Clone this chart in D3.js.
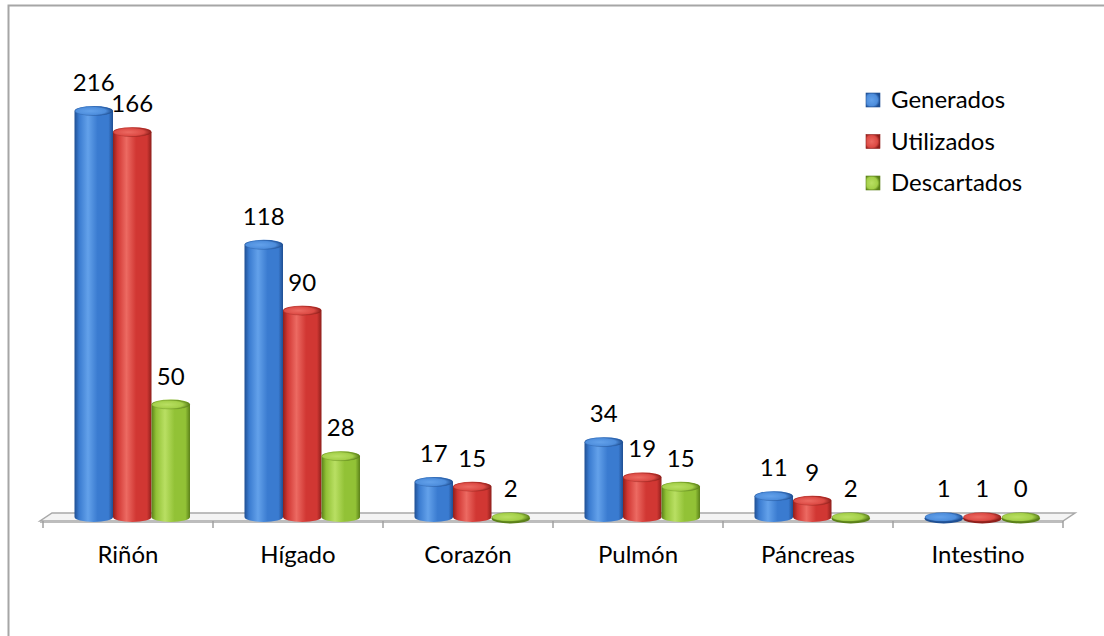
<!DOCTYPE html>
<html>
<head>
<meta charset="utf-8">
<script src="https://cdn.jsdelivr.net/npm/d3@7"></script>
<style>
  html, body { margin: 0; padding: 0; background: #fff; }
  svg { display: block; }
  text { font-family: Lato, "Liberation Sans", sans-serif; }
</style>
</head>
<body>
<svg id="chart" width="1104" height="636"></svg>
<script>
// ---- data ----
const categories = ["Riñón", "Hígado", "Corazón", "Pulmón", "Páncreas", "Intestino"];
const seriesNames = ["Generados", "Utilizados", "Descartados"];
const generados = [216, 118, 17, 34, 11, 1];
const utilizados = [166, 90, 15, 19, 9, 1];
const descartados = [50, 28, 2, 15, 2, 0];
const seriesValues = [generados, utilizados, descartados];

// ---- styles ----
const palette = [
  { dark: "#1f4f93", base: "#3a7bd0", light: "#63a1ea", cap: "#4d8ddc" },
  { dark: "#8f1f1b", base: "#d13733", light: "#ec6a62", cap: "#dc4a44" },
  { dark: "#5b8119", base: "#92c236", light: "#b9df63", cap: "#a3cf48" }
];
const fontSize = 24;

const svg = d3.select("#chart");
const defs = svg.append("defs");

palette.forEach((p, i) => {
  const g = defs.append("linearGradient").attr("id", "body" + i)
    .attr("x1", "0%").attr("x2", "100%").attr("y1", "0%").attr("y2", "0%");
  [[0, p.dark], [0.12, p.base], [0.35, p.light], [0.6, p.base], [0.88, p.base], [1, p.dark]]
    .forEach(([o, c]) => g.append("stop").attr("offset", o).attr("stop-color", c));
  const r = defs.append("radialGradient").attr("id", "cap" + i)
    .attr("cx", "40%").attr("cy", "50%").attr("r", "60%");
  [[0, p.light], [0.7, p.cap], [1, p.dark]]
    .forEach(([o, c]) => r.append("stop").attr("offset", o).attr("stop-color", c));
});

// ---- scales ----
const x0 = d3.scaleBand().domain(categories).range([43, 1063]).padding(0);
const x1 = d3.scaleBand().domain(seriesNames).range([31.5, 147]).padding(0);
const y = d3.scaleLinear().domain([0, 175]).range([522, 111]).clamp(true);

// ---- border ----
svg.append("rect").attr("x", 8.5).attr("y", 5.5).attr("width", 1200).attr("height", 700)
  .attr("fill", "none").attr("stroke", "#a6a6a6").attr("stroke-width", 2);

// ---- floor ----
const fl = 40, fr = 1063, bl = 52, br = 1075, fy = 521, by = 513;
svg.append("path")
  .attr("d", `M${fl},${fy} L${fr},${fy} L${br},${by} L${bl},${by} Z`)
  .attr("fill", "#f4f4f4").attr("stroke", "#a9a9a9").attr("stroke-width", 1.5);
svg.append("rect").attr("x", fl).attr("y", fy).attr("width", fr - fl).attr("height", 2)
  .attr("fill", "#bdbdbd");

// ticks at category boundaries
const tickXs = categories.map(c => x0(c)).concat([x0.range()[1]]);
svg.append("g").selectAll("line").data(tickXs).join("line")
  .attr("x1", d => d).attr("x2", d => d).attr("y1", fy).attr("y2", 528)
  .attr("stroke", "#a0a0a0").attr("stroke-width", 1.5);

// ---- bars ----
const baseY = 517;
const ry = 5;
const bars = [];
categories.forEach((c, ci) => {
  seriesNames.forEach((s, si) => {
    const v = seriesValues[si][ci];
    bars.push({ c, s, si, v });
  });
});

const gBars = svg.append("g");
bars.forEach(b => {
  const rx = x1.bandwidth() / 2;
  const cx = x0(b.c) + x1(b.s) + rx;
  const top = Math.min(y(b.v), baseY);
  b.cx = cx; b.top = top;
  const g = gBars.append("g");
  if (top < baseY) {
    g.append("path")
      .attr("d", `M${cx - rx},${top} L${cx - rx},${baseY} A${rx},${ry} 0 0 0 ${cx + rx},${baseY} L${cx + rx},${top} A${rx},${ry} 0 0 0 ${cx - rx},${top} Z`)
      .attr("fill", `url(#body${b.si})`);
  } else {
    g.append("ellipse").attr("cx", cx).attr("cy", baseY + 1.5).attr("rx", rx).attr("ry", ry)
      .attr("fill", palette[b.si].dark);
  }
  g.append("ellipse").attr("cx", cx).attr("cy", top).attr("rx", rx - 0.5).attr("ry", ry - 0.5)
    .attr("fill", `url(#cap${b.si})`)
    .attr("stroke", palette[b.si].dark).attr("stroke-opacity", 0.35).attr("stroke-width", 0.8);
});

// ---- value labels ----
svg.append("g").selectAll("text").data(bars).join("text")
  .attr("x", d => d.cx).attr("y", d => d.top - 20)
  .attr("text-anchor", "middle").attr("font-size", fontSize).attr("fill", "#000")
  .text(d => d.v);

// ---- category labels ----
svg.append("g").selectAll("text").data(categories).join("text")
  .attr("x", d => x0(d) + x0.bandwidth() / 2).attr("y", 563)
  .attr("text-anchor", "middle").attr("font-size", fontSize).attr("fill", "#000")
  .text(d => d);

// ---- legend ----
const ly = d3.scalePoint().domain(seriesNames).range([108, 191]);
const lg = svg.append("g");
seriesNames.forEach((s, i) => {
  lg.append("rect").attr("x", 866).attr("y", ly(s) - 15).attr("width", 14).attr("height", 14)
    .attr("fill", `url(#cap${i})`).attr("stroke", palette[i].dark).attr("stroke-width", 0.6);
  lg.append("text").attr("x", 891).attr("y", ly(s))
    .attr("font-size", fontSize).attr("fill", "#000").text(s);
});
</script>
</body>
</html>
